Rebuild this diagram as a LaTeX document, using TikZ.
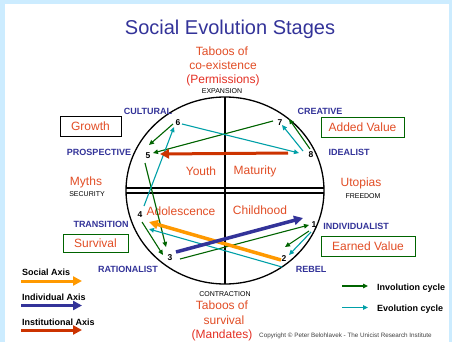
\documentclass[tikz,border=0pt]{standalone}
\usepackage{fontspec}
\setmainfont{Liberation Sans}
\usetikzlibrary{arrows.meta}

\definecolor{bgblue}{RGB}{204,236,255}
\definecolor{stageblue}{RGB}{51,51,153}
\definecolor{stageorange}{RGB}{226,78,38}
\definecolor{stagered}{RGB}{228,48,36}
\definecolor{invgreen}{RGB}{0,100,0}
\definecolor{evoteal}{RGB}{0,160,168}
\definecolor{socorange}{RGB}{255,153,0}
\definecolor{indblue}{RGB}{51,51,153}
\definecolor{insred}{RGB}{204,51,0}

\begin{document}
\begin{tikzpicture}[x=1pt,y=-1pt,
    every node/.style={inner sep=0pt},
    pole/.style={text=stageblue,font=\fontsize{9}{9}\selectfont\bfseries},
    stage/.style={text=stageorange,font=\fontsize{12}{12}\selectfont},
    tiny/.style={font=\fontsize{7}{7}\selectfont},
    num/.style={font=\fontsize{8.5}{8.5}\selectfont\bfseries},
    valbox/.style={draw=invgreen,line width=0.8pt,minimum height=20pt,text=stageorange,font=\fontsize{12}{12}\selectfont},
    legend/.style={font=\fontsize{9}{9}\selectfont\bfseries,anchor=west},
    inv/.style={draw=invgreen,line width=1.1pt,-{Triangle[length=5pt,width=4.5pt]}},
    evo/.style={draw=evoteal,line width=1.1pt,-{Triangle[length=5pt,width=4.5pt]}},
    axis/.style={line width=3.5pt,-{Triangle[length=9pt,width=9pt]}}]

    \useasboundingbox (0,0) rectangle (452,342);
    \fill[bgblue] (0,0) rectangle (452,342);
    \fill[white] (5,4) rectangle (449,342);

    % Title and taboos
    \node[text=stageblue,font=\fontsize{20}{20}\selectfont] (title) at (230,29) {Social Evolution Stages};
    \node[stage] (tab1) at (222,51) {Taboos of};
    \node[stage] (tab2) at (223,65.5) {co-existence};
    \node[stage,text=stagered] (tab3) at (223,80.5) {(Permissions)};
    \node[tiny] (expand) at (222,91) {EXPANSION};
    \node[tiny] (contract) at (225,294) {CONTRACTION};
    \node[stage] (tab4) at (222,305) {Taboos of};
    \node[stage] (tab5) at (224,320.5) {survival};
    \node[stage,text=stagered] (tab6) at (222,335) {(Mandates)};

    % Circle and axes
    \draw[line width=1.3pt] (225,190.5) ellipse [x radius=99, y radius=93.5];
    \draw[line width=2pt] (126,187.5) -- (324,187.5);
    \draw[line width=2pt] (126,192.5) -- (324,192.5);
    \draw[line width=2pt] (225,97) -- (225,284);

    % Stages
    \node[stage] (youth) at (201,171) {Youth};
    \node[stage] (mature) at (255,171) {Maturity};
    \node[stage] (adol) at (181,211) {Adolescence};
    \node[stage] (child) at (260,210) {Childhood};

    % Poles
    \node[pole] (cult) at (148,111) {CULTURAL};
    \node[pole] (creat) at (320,111) {CREATIVE};
    \node[pole] (prosp) at (99,152) {PROSPECTIVE};
    \node[pole] (ideal) at (349,152) {IDEALIST};
    \node[pole] (trans) at (101,224) {TRANSITION};
    \node[pole] (indiv) at (356,226) {INDIVIDUALIST};
    \node[pole] (ratio) at (128,269) {RATIONALIST};
    \node[pole] (rebel) at (311,269) {REBEL};

    \node[stage] (myths) at (86,182) {Myths};
    \node[tiny] (secur) at (87,194) {SECURITY};
    \node[stage] (utop) at (361,183) {Utopias};
    \node[tiny] (free) at (363,196) {FREEDOM};

    % Value boxes
    \node[valbox,draw=black,minimum width=61pt] (growth) at (90.5,126) {Growth};
    \node[valbox,minimum width=83pt] (added) at (362.5,127.5) {Added Value};
    \node[valbox,minimum width=65pt,minimum height=18pt] (surv) at (95.5,243) {Survival};
    \node[valbox,minimum width=94pt] (earned) at (368,246.5) {Earned Value};

    % Stage numbers
    \node[num] (n1) at (314,225) {1};
    \node[num] (n2) at (284,259) {2};
    \node[num] (n3) at (170,258) {3};
    \node[num] (n4) at (140,215) {4};
    \node[num] (n5) at (148,156) {5};
    \node[num] (n6) at (178,123) {6};
    \node[num] (n7) at (280,123) {7};
    \node[num] (n8) at (311,155) {8};

    % Involution cycle
    \draw[inv] ([shift={(-7,-2)}]n7.center) -- ([shift={(5,-3)}]n5.center);
    \draw[inv] ([shift={(-1,-6)}]n8.center) -- ([shift={(9,-4)}]n7.center);
    \draw[inv] ([shift={(-5,1)}]n6.center) -- ([shift={(1,-11)}]n5.center);
    \draw[inv] ([shift={(-3,7)}]n5.center) -- ([shift={(-4,-11)}]n3.center);
    \draw[inv] ([shift={(2,7)}]n4.center) -- ([shift={(-7,-3)}]n3.center);
    \draw[inv] ([shift={(10,1)}]n3.center) -- ([shift={(-5,0)}]n1.center);
    \draw[inv] ([shift={(-5,6)}]n1.center) -- ([shift={(1,-12)}]n2.center);

    % Evolution cycle
    \draw[evo] ([shift={(4,1)}]n6.center) -- ([shift={(-12,-2)}]n8.center);
    \draw[evo] ([shift={(-8,-4)}]n8.center) -- ([shift={(2,2)}]n7.center);
    \draw[evo] ([shift={(4,-9)}]n4.center) -- ([shift={(-4,4)}]n6.center);
    \draw[evo] ([shift={(-2,8)}]n2.center) -- ([shift={(9,14)}]n4.center);
    \draw[evo] ([shift={(-3,7)}]n1.center) -- ([shift={(5,-4)}]n2.center);

    % Axes
    \draw[axis,draw=insred,line width=3pt] ([shift={(-23,-2)}]n8.center) -- ([shift={(12,-2)}]n5.center);
    \draw[axis,draw=socorange] ([shift={(-3,1)}]n2.center) -- ([shift={(9,7)}]n4.center);
    \draw[axis,draw=indblue] ([shift={(6,-6)}]n3.center) -- ([shift={(-11,-7)}]n1.center);

    % Legend (left)
    \node[legend] (soc) at (22,272) {Social Axis};
    \node[legend] (ind) at (22,297.5) {Individual Axis};
    \node[legend] (ins) at (22,322) {Institutional Axis};
    \coordinate (s1) at (21,281);  \coordinate (s2) at (82,281);
    \coordinate (i1) at (21,305.5); \coordinate (i2) at (82,305.5);
    \coordinate (r1) at (21,330);  \coordinate (r2) at (82,330);
    \draw[axis,draw=socorange,line width=3pt] (s1) -- (s2);
    \draw[axis,draw=indblue,line width=3pt] (i1) -- (i2);
    \draw[axis,draw=insred,line width=3pt] (r1) -- (r2);

    % Legend (right)
    \node[legend] (invl) at (377,288.5) {Involution cycle};
    \node[legend] (evol) at (377,309.5) {Evolution cycle};
    \coordinate (g1) at (342,286); \coordinate (g2) at (368,286);
    \coordinate (t1) at (342,307.5); \coordinate (t2) at (368,307.5);
    \draw[inv] (g1) -- (g2);
    \draw[evo] (t1) -- (t2);

    \node[anchor=west,text=black!75,font=\fontsize{6.3}{6.3}\selectfont] (copy) at (259,336) {Copyright \textcopyright{} Peter Belohlavek - The Unicist Research Institute};
\end{tikzpicture}
\end{document}
